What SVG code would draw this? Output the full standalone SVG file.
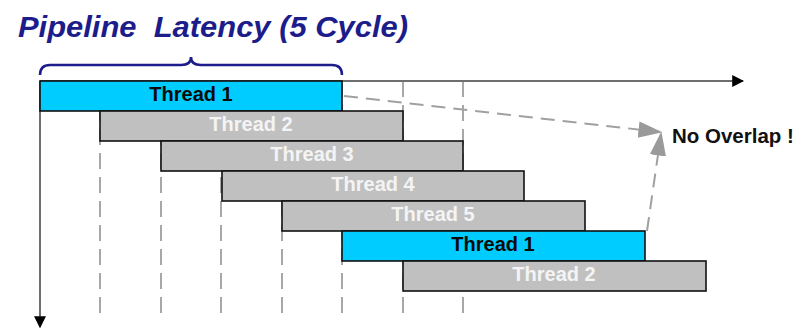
<svg xmlns="http://www.w3.org/2000/svg" width="799" height="329" viewBox="0 0 799 329">
  <defs>
    <style>
      .title { font-family: "Liberation Sans", Arial, sans-serif; font-weight: bold; font-style: italic; font-size: 30px; fill: #1c1c8a; }
      .grid { stroke: #a8a8a8; stroke-width: 2; stroke-dasharray: 16 8; fill: none; }
      .axis { stroke: #6e6e6e; stroke-width: 2; fill: none; }
      .bar { stroke: #111; stroke-width: 1.6; }
      .hot { fill: #00ccff; }
      .cold { fill: #c0c0c0; }
      .label { font-family: "Liberation Sans", Arial, sans-serif; font-weight: bold; font-size: 20px; text-anchor: middle; }
      .hot-text { fill: #0a0a0a; }
      .cold-text { fill: #f4f4f4; }
      .hint { stroke: #a0a0a0; stroke-width: 2; stroke-dasharray: 14 8; fill: none; }
      .note { font-family: "Liberation Sans", Arial, sans-serif; font-weight: bold; font-size: 20.5px; fill: #111; }
    </style>
    <marker id="axisHead" viewBox="0 0 10 10" refX="9" refY="5" markerWidth="6" markerHeight="6" markerUnits="strokeWidth" orient="auto">
      <path d="M0,0 L10,5 L0,10 Z" fill="#000"/>
    </marker>
    <marker id="hintHead" viewBox="0 0 10 10" refX="9" refY="5" markerWidth="12" markerHeight="12" markerUnits="strokeWidth" orient="auto">
      <path d="M0,1.6 L10,5 L0,8.4 Z" fill="#9a9a9a"/>
    </marker>
  </defs>

  <rect width="799" height="329" fill="#ffffff"/>

  <text class="title" x="18" y="37" textLength="390" lengthAdjust="spacingAndGlyphs">Pipeline&#160; Latency (5 Cycle)</text>

  <!-- brace over the first thread: one pipeline latency -->
  <path d="M40,75 Q40,65 50,65 L181,65 Q191,65 191,57 Q191,65 201,65 L332,65 Q342,65 342,75" fill="none" stroke="#1c1c8a" stroke-width="2.5"/>

  <!-- connectors: cycle grid, axes and the no-overlap hints -->
  <g id="connectors">
    <g id="cycle-grid">
      <line class="grid" x1="100" y1="81" x2="100" y2="313"/>
      <line class="grid" x1="161" y1="81" x2="161" y2="313"/>
      <line class="grid" x1="221" y1="81" x2="221" y2="313"/>
      <line class="grid" x1="282" y1="81" x2="282" y2="313"/>
      <line class="grid" x1="342" y1="81" x2="342" y2="313"/>
      <line class="grid" x1="403" y1="81" x2="403" y2="313"/>
      <line class="grid" x1="463" y1="81" x2="463" y2="313"/>
    </g>
    <line id="time-axis" class="axis" x1="40" y1="81" x2="743" y2="81" marker-end="url(#axisHead)"/>
    <line id="thread-axis" class="axis" x1="40" y1="81" x2="40" y2="327" marker-end="url(#axisHead)"/>
  </g>

  <g id="thread1-a">
    <rect class="bar hot" x="40" y="81" width="302" height="30"/>
    <text class="label hot-text" x="191" y="101">Thread 1</text>
  </g>
  <g id="thread2-a">
    <rect class="bar cold" x="100" y="111" width="303" height="30"/>
    <text class="label cold-text" x="251" y="131">Thread 2</text>
  </g>
  <g id="thread3">
    <rect class="bar cold" x="161" y="141" width="302" height="30"/>
    <text class="label cold-text" x="312" y="161">Thread 3</text>
  </g>
  <g id="thread4">
    <rect class="bar cold" x="222" y="171" width="302" height="30"/>
    <text class="label cold-text" x="373" y="191">Thread 4</text>
  </g>
  <g id="thread5">
    <rect class="bar cold" x="282" y="201" width="303" height="30"/>
    <text class="label cold-text" x="433" y="221">Thread 5</text>
  </g>
  <g id="thread1-b">
    <rect class="bar hot" x="342" y="231" width="303" height="30"/>
    <text class="label hot-text" x="493" y="251">Thread 1</text>
  </g>
  <g id="thread2-b">
    <rect class="bar cold" x="403" y="261" width="303" height="30"/>
    <text class="label cold-text" x="554" y="281">Thread 2</text>
  </g>

  <g id="overlap-hints">
    <line class="hint" x1="344" y1="96" x2="660" y2="132" marker-end="url(#hintHead)"/>
    <line class="hint" x1="647" y1="231" x2="661" y2="134" marker-end="url(#hintHead)"/>
  </g>

  <g id="note">
    <text class="note" x="672" y="143">No Overlap !</text>
  </g>
</svg>
